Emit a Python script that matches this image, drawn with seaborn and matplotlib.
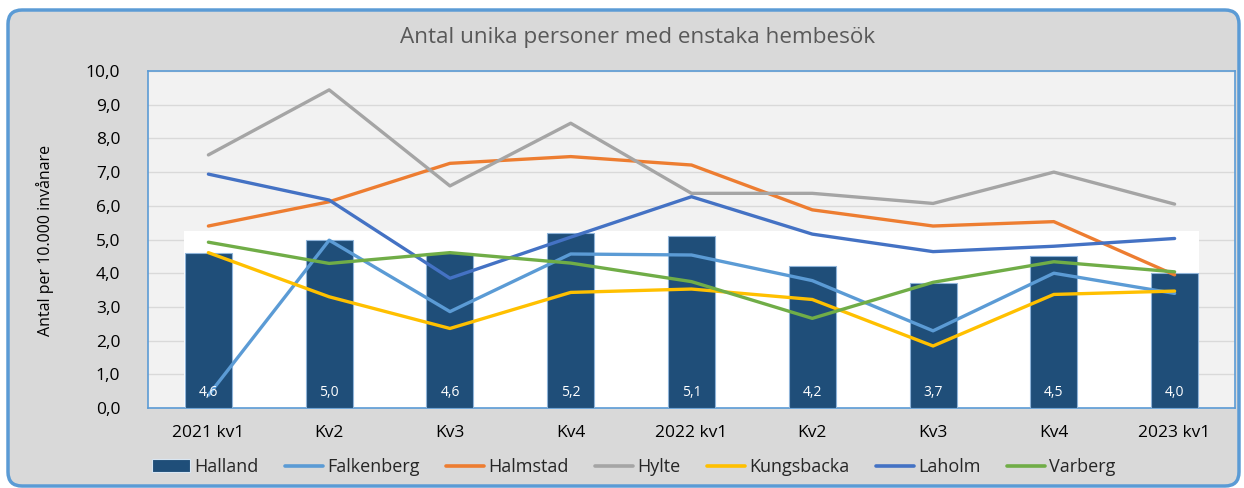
import matplotlib
matplotlib.use("Agg")
import matplotlib.pyplot as plt
from matplotlib.patches import FancyBboxPatch, Rectangle
from matplotlib.lines import Line2D
from matplotlib.transforms import IdentityTransform
import seaborn as sns
import pandas as pd
import numpy as np

# ---- data ----
quarters = ["2021 kv1", "Kv2", "Kv3", "Kv4", "2022 kv1", "Kv2", "Kv3", "Kv4", "2023 kv1"]
halland = [4.6, 5.0, 4.6, 5.2, 5.1, 4.2, 3.7, 4.5, 4.0]
falkenberg = [0.38, 4.98, 2.86, 4.57, 4.54, 3.78, 2.29, 4.00, 3.40]
halmstad = [5.40, 6.12, 7.26, 7.46, 7.21, 5.88, 5.40, 5.53, 3.95]
hylte = [7.51, 9.44, 6.59, 8.45, 6.37, 6.37, 6.07, 7.00, 6.05]
kungsbacka = [4.61, 3.30, 2.36, 3.43, 3.53, 3.22, 1.84, 3.37, 3.47]
laholm = [6.94, 6.17, 3.85, 5.07, 6.27, 5.16, 4.64, 4.80, 5.03]
varberg = [4.92, 4.29, 4.61, 4.30, 3.75, 2.66, 3.73, 4.34, 4.04]

series = {
    "Falkenberg": falkenberg,
    "Halmstad": halmstad,
    "Hylte": hylte,
    "Kungsbacka": kungsbacka,
    "Laholm": laholm,
    "Varberg": varberg,
}
colors = {
    "Falkenberg": "#5b9bd5",
    "Halmstad": "#ed7d31",
    "Hylte": "#a5a5a5",
    "Kungsbacka": "#ffc000",
    "Laholm": "#4472c4",
    "Varberg": "#70ad47",
}
bar_color = "#1f4e79"

sns.set_theme(style="white")
plt.rcParams["font.family"] = ["Open Sans", "DejaVu Sans"]

W, H = 1244, 488
fig = plt.figure(figsize=(W / 100, H / 100), dpi=100, facecolor="white")

# outer rounded frame
frame = FancyBboxPatch((8, 2), 1231, 476, boxstyle="round,pad=0,rounding_size=14",
                       transform=IdentityTransform(), facecolor="#d9d9d9",
                       edgecolor="#5b9bd5", linewidth=2.5, zorder=-5)
fig.patches.append(frame)

ax = fig.add_axes([148 / W, (H - 408) / H, (1235 - 148) / W, (408 - 71) / H])
ax.set_zorder(2)
ax.set_facecolor("#f2f2f2")

pos = np.arange(len(quarters))
bar_w = 0.39

# white backdrop behind bars
ax.add_patch(Rectangle((-bar_w / 2 - 0.01, 0), len(quarters) - 1 + bar_w + 0.02, 5.25,
                       facecolor="white", edgecolor="none", zorder=1))

bar_df = pd.DataFrame({"pos": pos, "Halland": halland})
sns.barplot(data=bar_df, x="pos", y="Halland", color=bar_color, saturation=1,
            width=bar_w, edgecolor="#8fb4d9", linewidth=0.8, ax=ax, zorder=3)

long = pd.DataFrame([
    {"pos": p, "value": v, "kommun": k}
    for k, vals in series.items() for p, v in zip(pos, vals)
])
sns.lineplot(data=long, x="pos", y="value", hue="kommun", palette=colors,
             linewidth=2.4, ax=ax, legend=False, zorder=4)

for p, v in zip(pos, halland):
    ax.text(p, 0.45, f"{v:.1f}".replace(".", ","), ha="center", va="center",
            color="white", fontsize=10, zorder=5)

ax.set_xlim(-0.5, len(quarters) - 0.5)
ax.set_ylim(0, 10)
ax.set_yticks(np.arange(0, 11, 1))
ax.set_yticklabels([f"{t:.1f}".replace(".", ",") for t in np.arange(0, 11, 1)], fontsize=12.5)
ax.set_xticks(pos)
ax.set_xticklabels(quarters, fontsize=12.5)
ax.tick_params(axis="x", length=0, pad=12, colors="black")
ax.tick_params(axis="y", length=0, pad=20, colors="black")
ax.set_xlabel("")
ax.set_ylabel("")
ax.set_axisbelow(True)
ax.yaxis.grid(True, color="#d9d9d9", linewidth=1.0, zorder=0.5)
ax.xaxis.grid(False)
for s in ax.spines.values():
    s.set_color("#5b9bd5")
    s.set_linewidth(1.2)
    s.set_visible(True)

fig.text(45 / W, 1 - 240 / H, "Antal per 10.000 invånare", rotation=90,
         ha="center", va="center", fontsize=11.5, color="black")
fig.text(638 / W, 1 - 38 / H, "Antal unika personer med enstaka hembesök",
         ha="center", va="center", fontsize=16.2, color="#595959")

handles = [Rectangle((0, 0), 1, 1, facecolor=bar_color, edgecolor="#d9e6f2", linewidth=0.8)]
labels = ["Halland"]
for k in series:
    handles.append(Line2D([0], [0], color=colors[k], linewidth=2.6))
    labels.append(k)
fig.legend(handles, labels, loc="center", bbox_to_anchor=(634 / W, 1 - 467 / H),
           ncol=7, frameon=False, fontsize=13, handlelength=2.1,
           handletextpad=0.25, columnspacing=1.45, borderaxespad=0)

fig.savefig("out.png", dpi=100, facecolor="white")
